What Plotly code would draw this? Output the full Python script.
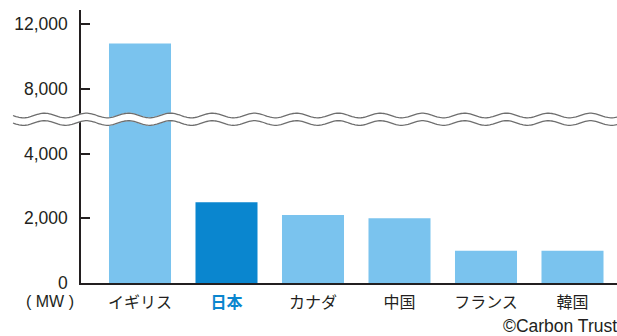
import numpy as np
import plotly.graph_objects as go

countries = ["イギリス", "日本", "カナダ", "中国", "フランス", "韓国"]
capacity_mw = [10800, 2500, 2100, 2000, 1000, 1000]
tick_values = [0, 2000, 4000, 8000, 12000]
tick_labels = ["0", "2,000", "4,000", "8,000", "12,000"]
highlight = "日本"

LIGHT = "#7AC3EE"
DARK = "#0A86CF"
FONT = "Liberation Sans, Arial, Noto Sans CJK JP, sans-serif"

# broken axis: below 4000 linear; above the break, 8000 maps to 6000 display, half scale
def to_display(v):
    v = np.asarray(v, dtype=float)
    return np.where(v <= 4000, v, np.where(v >= 8000, 6000 + (v - 8000) / 2, 4000 + (v - 4000) / 2))

W, H = 617, 336
L, R, T, B = 81, 0, 10, 53
pw, ph = W - L - R, H - T - B
y0px = H - B

def px_x(x):
    return (x - L) / pw

def px_y(y):
    return (y0px - y) / ph

ticktext = [f"<b><span style='color:{DARK}'>{c}</span></b>" if c == highlight else c for c in countries]
colors = [DARK if c == highlight else LIGHT for c in countries]

fig = go.Figure(go.Bar(x=list(range(len(countries))), y=to_display(capacity_mw),
                       marker=dict(color=colors, line=dict(width=0)),
                       hoverinfo="skip"))

spacing = 86.5
first_center = 140
xmin = -(first_center - L) / spacing
xmax = xmin + pw / spacing
yrange = ph / 64.7 * 2000

fig.update_layout(
    width=W, height=H,
    margin=dict(l=L, r=R, t=T, b=B, pad=0),
    paper_bgcolor="white", plot_bgcolor="white",
    showlegend=False, bargap=0.283,
    font=dict(family=FONT, color="#231F20"),
    xaxis=dict(range=[xmin, xmax], tickvals=list(range(len(countries))), ticktext=ticktext,
               showline=True, linecolor="#231F20", linewidth=1.5, showgrid=False, zeroline=False,
               ticks="", tickfont=dict(size=16, family=FONT, color="#231F20"),
               ticklabelstandoff=4),
    yaxis=dict(range=[0, yrange], tickvals=to_display(tick_values).tolist(), ticktext=tick_labels,
               showline=True, linecolor="#231F20", linewidth=1.5, showgrid=False, zeroline=False,
               ticks="inside", ticklen=9, tickwidth=1.5, tickcolor="#231F20",
               tickfont=dict(size=17.5, family=FONT, color="#231F20"),
               ticklabelstandoff=8),
)

# wavy break band
xs = np.linspace(13, 617, 400)
period = 42.0
amp = 2.3
top = 115.5 + amp * np.sin(2 * np.pi * (xs - 13) / period)
bot = 123.0 + amp * np.sin(2 * np.pi * (xs - 13) / period)

def path_from(xp, yp):
    pts = [f"{px_x(a):.5f},{px_y(b):.5f}" for a, b in zip(xp, yp)]
    return "M" + " L".join(pts)

fill_path = path_from(np.concatenate([xs, xs[::-1]]), np.concatenate([top - 0.5, (bot + 0.5)[::-1]])) + " Z"
shapes = [
    dict(type="path", path=fill_path, xref="paper", yref="paper", fillcolor="white",
         line=dict(width=0), layer="above"),
    dict(type="path", path=path_from(xs, top), xref="paper", yref="paper",
         line=dict(color="#6E6E6E", width=1.3), layer="above"),
    dict(type="path", path=path_from(xs, bot), xref="paper", yref="paper",
         line=dict(color="#6E6E6E", width=1.3), layer="above"),
]
fig.update_layout(shapes=shapes)

fig.add_annotation(text="( MW )", x=px_x(50), y=px_y(301), xref="paper", yref="paper",
                   showarrow=False, font=dict(size=16, family=FONT, color="#231F20"),
                   xanchor="center", yanchor="middle")
fig.add_annotation(text="©Carbon Trust", x=1.0, y=px_y(326), xref="paper", yref="paper",
                   showarrow=False, font=dict(size=17.5, family=FONT, color="#231F20"),
                   xanchor="right", yanchor="middle", xshift=2)

fig.write_html("out.html")
